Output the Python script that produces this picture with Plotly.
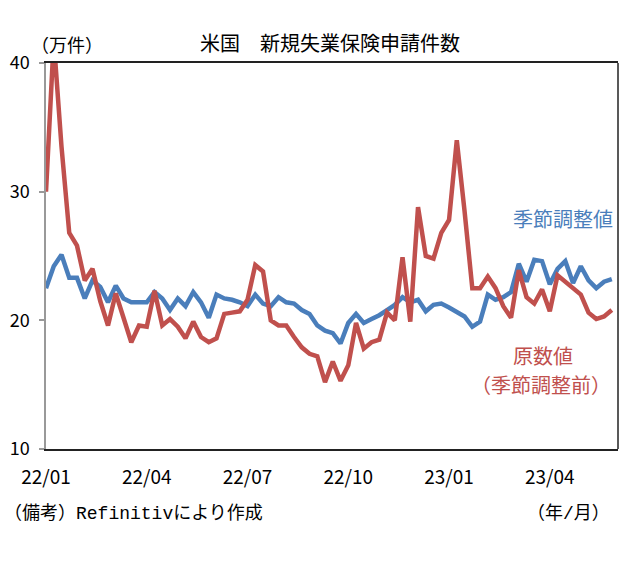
import pandas as pd
import plotly.graph_objects as go

# weekly data, week ending dates starting 2022-01-01 (unit: 10k claims)
start_date = "2022-01-01"
n_weeks = 74
sa_values = [22.5, 24.2, 25.1, 23.3, 23.3, 21.7, 23.1, 22.6, 21.4, 22.7,
             21.7, 21.4, 21.4, 21.4, 22.2, 21.7, 20.8, 21.7, 21.1, 22.2,
             21.4, 20.2, 22.0, 21.7, 21.6, 21.4, 21.1, 22.0, 21.3, 21.1,
             21.8, 21.4, 21.3, 20.8, 20.5, 19.6, 19.2, 19.0, 18.2, 19.8,
             20.5, 19.8, 20.1, 20.4, 20.8, 21.2, 21.8, 21.4, 21.6, 20.7,
             21.2, 21.3, 21.0, 20.6, 20.3, 19.5, 19.9, 22.0, 21.6, 21.8,
             22.2, 24.4, 23.0, 24.7, 24.6, 22.8, 24.0, 24.6, 22.9, 24.2,
             23.1, 22.5, 23.0, 23.2]
nsa_values = [30.0, 41.8, 33.5, 26.8, 25.8, 23.1, 24.0, 21.5, 19.6, 22.1,
              20.2, 18.3, 19.6, 19.5, 22.3, 19.6, 20.1, 19.5, 18.6, 19.9,
              18.7, 18.3, 18.6, 20.5, 20.6, 20.7, 21.6, 24.3, 23.8, 20.0,
              19.6, 19.6, 18.7, 17.9, 17.4, 17.2, 15.2, 16.8, 15.3, 16.5,
              19.8, 17.8, 18.3, 18.5, 20.6, 20.0, 24.9, 19.9, 28.8, 25.0,
              24.8, 26.8, 27.8, 34.0, 28.5, 22.5, 22.5, 23.4, 22.5, 21.1,
              20.2, 23.9, 21.8, 21.3, 22.4, 20.7, 23.5, 23.0, 22.5, 22.0,
              20.6, 20.1, 20.3, 20.8]
tick_week_idx = [0, 13, 26, 39, 52, 65]
tick_labels = ["22/01", "22/04", "22/07", "22/10", "23/01", "23/04"]
y_ticks = [10, 20, 30, 40]

dates = pd.date_range(start_date, periods=n_weeks, freq="7D")

FONT = "Noto Sans CJK JP"
MONO = "Liberation Mono, Noto Sans CJK JP"
BLUE = "#4A7EBB"
RED = "#C0504D"

fig = go.Figure()
fig.add_trace(go.Scatter(x=dates, y=sa_values, mode="lines", name="季節調整値",
                         line=dict(color=BLUE, width=4.5)))
fig.add_trace(go.Scatter(x=dates, y=nsa_values, mode="lines", name="原数値",
                         line=dict(color=RED, width=4.5)))

x_end = dates[0] + pd.Timedelta(days=7 * 73.8)

fig.update_layout(
    width=628, height=573,
    margin=dict(l=46, r=10, t=63, b=124),
    paper_bgcolor="white", plot_bgcolor="white",
    showlegend=False,
    font=dict(family=FONT, size=18, color="black"),
    xaxis=dict(
        range=[dates[0], x_end],
        tickvals=[dates[i] for i in tick_week_idx],
        ticktext=tick_labels,
        showgrid=False, zeroline=False,
        showline=True, linecolor="#222", linewidth=1.5, mirror=True,
        ticks="", ticklabelstandoff=10,
        tickfont=dict(family=FONT, size=19),
    ),
    yaxis=dict(
        range=[10, 40],
        tickvals=y_ticks,
        showgrid=False, zeroline=False,
        showline=True, linecolor="#999", linewidth=1.5,
        ticks="outside", ticklen=5, tickcolor="#999", tickwidth=1.5,
        ticklabelstandoff=6,
        tickfont=dict(family=FONT, size=18),
    ),
)

# right border of the plot area
fig.add_shape(type="line", xref="paper", yref="paper", x0=1, x1=1, y0=0, y1=1,
              line=dict(color="#222", width=1.5))

def ann(text, x, y, xanchor="center", size=18, color="black", family=FONT):
    fig.add_annotation(text=text, x=x, y=y, xref="paper", yref="paper",
                       xanchor=xanchor, yanchor="middle", showarrow=False,
                       font=dict(family=family, size=size, color=color))

ann("米国　新規失業保険申請件数", 0.4965, 1.054, size=20)
ann("（万件）", -0.030, 1.050, xanchor="left", size=18)
ann("季節調整値", 0.904, 0.598, size=20, color=BLUE)
ann("原数値", 0.869, 0.241, size=20, color=RED)
ann("（季節調整前）", 0.865, 0.168, size=20, color=RED)
ann("（備考）Refinitivにより作成", -0.077, -0.166, xanchor="left", size=18, family=MONO)
ann("（年/月）", 0.99, -0.166, xanchor="right", size=18, family=MONO)

fig.write_html("out.html")
